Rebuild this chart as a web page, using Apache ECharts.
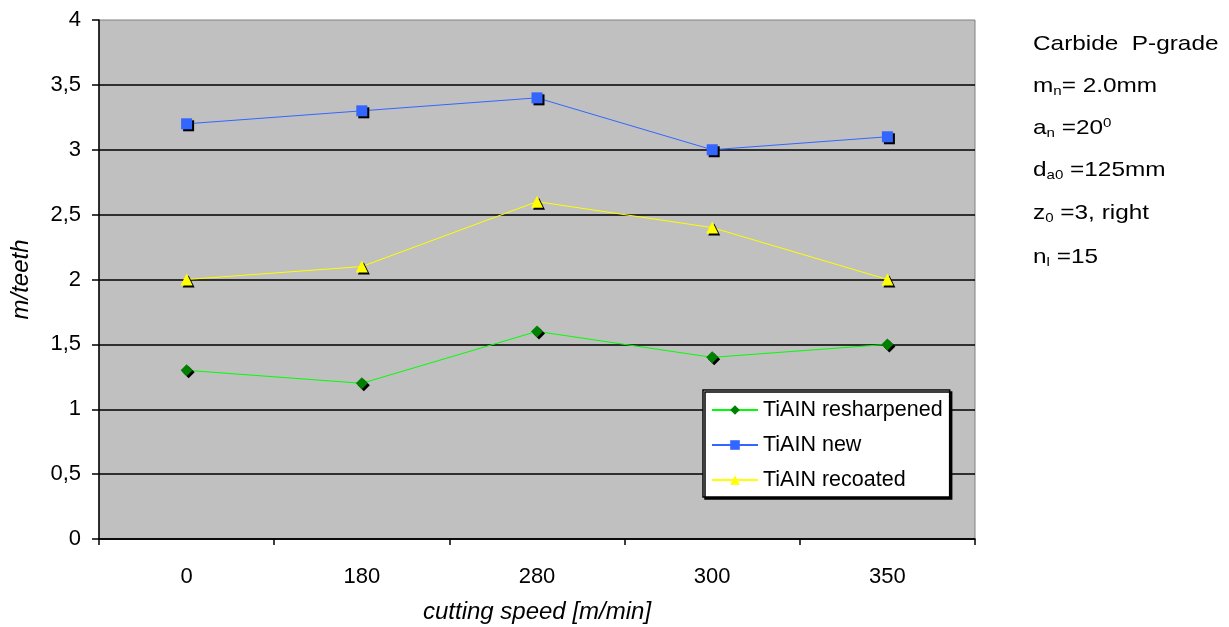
<!DOCTYPE html>
<html>
<head>
<meta charset="utf-8">
<script src="https://cdn.jsdelivr.net/npm/echarts@6/dist/echarts.min.js"></script>
<style>
  html, body { margin: 0; padding: 0; background: #fff; }
  #chart { width: 1229px; height: 627px; }
</style>
</head>
<body>
<div id="chart"></div>
<script>
// Cutting speed categories (m/min)
const speeds = ['0', '180', '280', '300', '350'];
// m/teeth per coating condition
const resharpened = [1.3, 1.2, 1.6, 1.4, 1.5];
const newTool = [3.2, 3.3, 3.4, 3.0, 3.1];
const recoated = [2.0, 2.1, 2.6, 2.4, 2.0];
const seriesNames = ['TiAIN resharpened', 'TiAIN new', 'TiAIN recoated'];

const FONT = '"Liberation Sans", Arial, sans-serif';
const markerShadow = { shadowColor: '#000', shadowOffsetX: 2, shadowOffsetY: 2, shadowBlur: 0 };

function lineSeries(name, data, lineColor, markColor, symbol, size) {
  return {
    name: name,
    type: 'line',
    data: data,
    symbol: symbol,
    symbolSize: size,
    lineStyle: { color: lineColor, width: 1 },
    itemStyle: Object.assign({ color: markColor }, markerShadow),
    emphasis: { disabled: true },
    z: 3
  };
}

// Tool parameters listed beside the plot
const paramLines = [
  '{b|Carbide  P-grade}',
  '{b|m}{s|n}{b|= 2.0mm}',
  '{b|a}{s|n}{b| =20}{u|0}',
  '{b|d}{s|a0}{b| =125mm}',
  '{b|z}{s|0}{b| =3, right}',
  '{b|n}{s|l}{b| =15}'
];
const paramY = [44, 86, 128, 170, 213, 257];
const rich = {
  b: { fontSize: 21, fontFamily: FONT, color: '#000', lineHeight: 26 },
  s: { fontSize: 13, fontFamily: FONT, color: '#000', lineHeight: 26, padding: [11, 0, 0, 0] },
  u: { fontSize: 13, fontFamily: FONT, color: '#000', lineHeight: 26, padding: [0, 0, 10, 0] }
};

const chart = echarts.init(document.getElementById('chart'), null, { renderer: 'canvas' });
chart.setOption({
  animation: false,
  backgroundColor: '#fff',
  grid: {
    left: 99, top: 20, right: 254, bottom: 88,
    outerBoundsMode: 'none',
    containLabel: false,
    show: true, backgroundColor: '#c0c0c0', borderColor: '#808080', borderWidth: 1
  },
  xAxis: {
    type: 'category',
    data: speeds,
    boundaryGap: true,
    name: 'cutting speed [m/min]',
    nameLocation: 'middle',
    nameGap: 61,
    nameTextStyle: { fontSize: 24, fontStyle: 'italic', fontFamily: FONT, color: '#000' },
    axisLine: { lineStyle: { color: '#000', width: 1.5 } },
    axisTick: { show: true, length: 6, alignWithLabel: false, lineStyle: { color: '#000', width: 1.5 } },
    axisLabel: { fontSize: 22, fontFamily: FONT, color: '#000', margin: 27 },
    splitLine: { show: false }
  },
  yAxis: {
    type: 'value',
    min: 0, max: 4, interval: 0.5,
    name: 'm/teeth',
    nameLocation: 'middle',
    nameGap: 66,
    nameRotate: 90,
    nameTextStyle: { fontSize: 24, fontStyle: 'italic', fontFamily: FONT, color: '#000' },
    axisLine: { show: true, lineStyle: { color: '#000', width: 1.5 } },
    axisTick: { show: true, length: 7, lineStyle: { color: '#000', width: 1.5 } },
    axisLabel: {
      fontSize: 22, fontFamily: FONT, color: '#000', margin: 18,
      formatter: v => String(v).replace('.', ',')
    },
    splitLine: { show: true, showMaxLine: false, lineStyle: { color: '#000', width: 1.5 } }
  },
  legend: {
    orient: 'vertical',
    left: 703, top: 390,
    width: 248,
    padding: [9, 7, 6, 8],
    itemGap: 13,
    itemWidth: 46,
    itemHeight: 12,
    backgroundColor: '#fff',
    borderColor: '#000',
    borderWidth: 1.5,
    shadowColor: '#000', shadowOffsetX: 2, shadowOffsetY: 2, shadowBlur: 0,
    textStyle: { fontSize: 21.5, fontFamily: FONT, color: '#000', lineHeight: 22 },
    data: seriesNames
  },
  graphic: paramLines.map((t, i) => ({
    type: 'text',
    x: 1033,
    y: paramY[i] - 13,
    scaleX: 1.16,
    style: { text: t, rich: rich }
  })),
  series: [
    lineSeries(seriesNames[0], resharpened, '#00ff00', '#008000', 'diamond', 12),
    lineSeries(seriesNames[1], newTool, '#3366ff', '#3366ff', 'rect', 11),
    lineSeries(seriesNames[2], recoated, '#ffff00', '#ffff00', 'triangle', 12)
  ]
});
</script>
</body>
</html>
